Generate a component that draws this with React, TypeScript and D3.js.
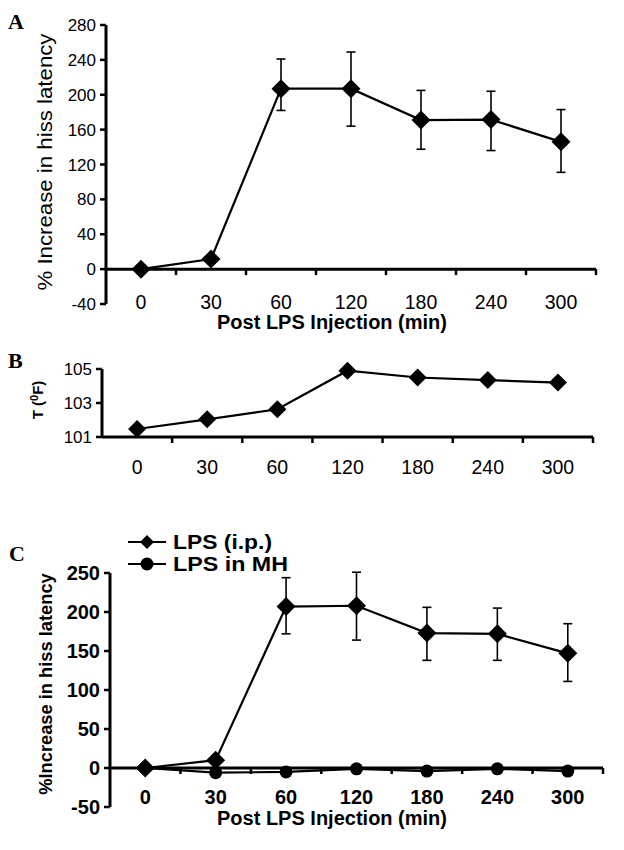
import React from "react";
import * as d3 from "d3";

const categories = ["0", "30", "60", "120", "180", "240", "300"];

// Panel A: % increase in hiss latency
const aValues = [0, 11.5, 207, 207, 171, 171.5, 146];
const aHigh: (number | null)[] = [null, null, 241, 249, 205, 204, 183];
const aLow: (number | null)[] = [null, null, 182, 164, 137.5, 136, 111];
const aTicks = [-40, 0, 40, 80, 120, 160, 200, 240, 280];

// Panel B: temperature (F)
const bValues = [101.47, 102.04, 102.63, 104.9, 104.5, 104.35, 104.2];
const bTicks = [101, 103, 105];

// Panel C
const cIp = [0, 10, 207, 208, 173, 172, 147];
const cIpHigh: (number | null)[] = [null, null, 244, 251, 206, 205, 185];
const cIpLow: (number | null)[] = [null, null, 172, 164, 138, 138, 111];
const cMH = [0, -6, -5, -1, -4, -1, -4];
const cTicks = [-50, 0, 50, 100, 150, 200, 250];
const legendLabels = ["LPS (i.p.)", "LPS in MH"];
const legendWidths = [99, 115];

const SANS = "'Liberation Sans', Arial, Helvetica, sans-serif";
const SERIF = "'Liberation Serif', 'Times New Roman', serif";

function diamondPath(cx: number, cy: number, r: number) {
  return `M${cx},${cy - r}L${cx + r},${cy}L${cx},${cy + r}L${cx - r},${cy}Z`;
}

type PanelProps = {
  x0: number;
  x1: number;
  yDomain: [number, number];
  yRange: [number, number];
  yTicks: number[];
  xAxisValue: number;
  yTickFont: { size: number; weight: string };
  xTickFont: { size: number; weight: string };
  xTickY: number;
};

function Axes(p: PanelProps) {
  const x = d3.scaleBand<string>().domain(categories).range([p.x0, p.x1]).padding(0);
  const y = d3.scaleLinear().domain(p.yDomain).range(p.yRange);
  const bw = x.bandwidth();
  const xAxisY = y(p.xAxisValue);
  const boundaries = categories.map((c) => x(c)!).concat([p.x1]);
  return (
    <g>
      <line x1={p.x0} x2={p.x0} y1={y(p.yDomain[1])} y2={y(p.yDomain[0])} stroke="#000" strokeWidth={3} />
      {p.yTicks.map((t) => (
        <g key={t}>
          <line x1={p.x0 - 6} x2={p.x0} y1={y(t)} y2={y(t)} stroke="#000" strokeWidth={2.5} />
          <text
            x={p.x0 - 10}
            y={y(t)}
            dy="0.36em"
            textAnchor="end"
            fontFamily={SANS}
            fontSize={p.yTickFont.size}
            fontWeight={p.yTickFont.weight}
          >
            {t}
          </text>
        </g>
      ))}
      <line x1={p.x0} x2={p.x1} y1={xAxisY} y2={xAxisY} stroke="#000" strokeWidth={3} />
      {boundaries.slice(1).map((bx, i) => (
        <line key={i} x1={bx} x2={bx} y1={xAxisY} y2={xAxisY + 6} stroke="#000" strokeWidth={2.5} />
      ))}
      {categories.map((c) => (
        <text
          key={c}
          x={x(c)! + bw / 2}
          y={p.xTickY}
          textAnchor="middle"
          fontFamily={SANS}
          fontSize={p.xTickFont.size}
          fontWeight={p.xTickFont.weight}
        >
          {c}
        </text>
      ))}
    </g>
  );
}

function Series({
  x0,
  x1,
  yDomain,
  yRange,
  values,
  high,
  low,
  marker,
  size,
}: {
  x0: number;
  x1: number;
  yDomain: [number, number];
  yRange: [number, number];
  values: number[];
  high?: (number | null)[];
  low?: (number | null)[];
  marker: "diamond" | "circle";
  size: number;
}) {
  const x = d3.scaleBand<string>().domain(categories).range([x0, x1]).padding(0);
  const y = d3.scaleLinear().domain(yDomain).range(yRange);
  const bw = x.bandwidth();
  const cx = (i: number) => x(categories[i])! + bw / 2;
  const line = d3
    .line<number>()
    .x((_, i) => cx(i))
    .y((d) => y(d));
  return (
    <g>
      {high &&
        low &&
        values.map((v, i) =>
          high[i] != null && low[i] != null ? (
            <g key={"e" + i} stroke="#000" strokeWidth={1.6}>
              <line x1={cx(i)} x2={cx(i)} y1={y(high[i]!)} y2={y(low[i]!)} />
              <line x1={cx(i) - 4.5} x2={cx(i) + 4.5} y1={y(high[i]!)} y2={y(high[i]!)} />
              <line x1={cx(i) - 4.5} x2={cx(i) + 4.5} y1={y(low[i]!)} y2={y(low[i]!)} />
            </g>
          ) : null
        )}
      <path d={line(values) || ""} fill="none" stroke="#000" strokeWidth={2.2} />
      {values.map((v, i) =>
        marker === "diamond" ? (
          <path key={i} d={diamondPath(cx(i), y(v), size)} fill="#000" />
        ) : (
          <circle key={i} cx={cx(i)} cy={y(v)} r={size} fill="#000" />
        )
      )}
    </g>
  );
}

export default function App() {
  const A = { x0: 106, x1: 596, yDomain: [-40, 280] as [number, number], yRange: [304, 25] as [number, number] };
  const B = { x0: 102, x1: 593, yDomain: [101, 105] as [number, number], yRange: [437, 369] as [number, number] };
  const C = { x0: 110, x1: 603, yDomain: [-50, 250] as [number, number], yRange: [807, 573] as [number, number] };

  return (
    <svg
      width={624}
      height={850}
      viewBox="0 0 624 850"
      style={{ position: "absolute", left: 0, top: 0, background: "#fff" }}
    >
      <rect x={0} y={0} width={624} height={850} fill="#fff" />

      {/* Panel A */}
      <text x={8} y={29} fontFamily={SERIF} fontWeight="bold" fontSize={22}>A</text>
      <text
        transform="translate(52,162) rotate(-90)"
        textAnchor="middle"
        fontFamily={SANS}
        fontSize={20}
        textLength={257}
        lengthAdjust="spacingAndGlyphs"
      >
        % Increase in hiss latency
      </text>
      <Axes
        x0={A.x0}
        x1={A.x1}
        yDomain={A.yDomain}
        yRange={A.yRange}
        yTicks={aTicks}
        xAxisValue={0}
        yTickFont={{ size: 17, weight: "normal" }}
        xTickFont={{ size: 19.5, weight: "normal" }}
        xTickY={309}
      />
      <Series {...A} values={aValues} high={aHigh} low={aLow} marker="diamond" size={9.5} />
      <text x={332} y={329} textAnchor="middle" fontFamily={SANS} fontWeight="bold" fontSize={20}>
        Post LPS Injection (min)
      </text>

      {/* Panel B */}
      <text x={8} y={368} fontFamily={SERIF} fontWeight="bold" fontSize={22}>B</text>
      <text
        transform="translate(43,400) rotate(-90)"
        textAnchor="middle"
        fontFamily={SANS}
        fontWeight="bold"
        fontSize={15}
      >
        T (<tspan dy={-5} fontSize={11}>0</tspan>
        <tspan dy={5}>F)</tspan>
      </text>
      <Axes
        x0={B.x0}
        x1={B.x1}
        yDomain={B.yDomain}
        yRange={B.yRange}
        yTicks={bTicks}
        xAxisValue={101}
        yTickFont={{ size: 17, weight: "normal" }}
        xTickFont={{ size: 19.5, weight: "normal" }}
        xTickY={474}
      />
      <Series {...B} values={bValues} marker="diamond" size={9} />

      {/* Panel C */}
      <text x={9} y={561} fontFamily={SERIF} fontWeight="bold" fontSize={22}>C</text>
      {legendLabels.map((lab, i) => {
        const ly = 542 + i * 22;
        return (
          <g key={lab}>
            <line x1={128} x2={166} y1={ly} y2={ly} stroke="#000" strokeWidth={2.2} />
            {i === 0 ? (
              <path d={diamondPath(147, ly, 7)} fill="#000" />
            ) : (
              <circle cx={147} cy={ly} r={6.5} fill="#000" />
            )}
            <text
              x={173}
              y={ly}
              dy="0.36em"
              fontFamily={SANS}
              fontWeight="bold"
              fontSize={20}
              textLength={legendWidths[i]}
              lengthAdjust="spacingAndGlyphs"
            >
              {lab}
            </text>
          </g>
        );
      })}
      <text
        transform="translate(52,684) rotate(-90)"
        textAnchor="middle"
        fontFamily={SANS}
        fontWeight="bold"
        fontSize={18.3}
      >
        %Increase in hiss latency
      </text>
      <Axes
        x0={C.x0}
        x1={C.x1}
        yDomain={C.yDomain}
        yRange={C.yRange}
        yTicks={cTicks}
        xAxisValue={0}
        yTickFont={{ size: 20, weight: "bold" }}
        xTickFont={{ size: 20, weight: "bold" }}
        xTickY={804}
      />
      <Series {...C} values={cMH} marker="circle" size={6.5} />
      <Series {...C} values={cIp} high={cIpHigh} low={cIpLow} marker="diamond" size={9.5} />
      <text x={332} y={825} textAnchor="middle" fontFamily={SANS} fontWeight="bold" fontSize={20}>
        Post LPS Injection (min)
      </text>
    </svg>
  );
}
